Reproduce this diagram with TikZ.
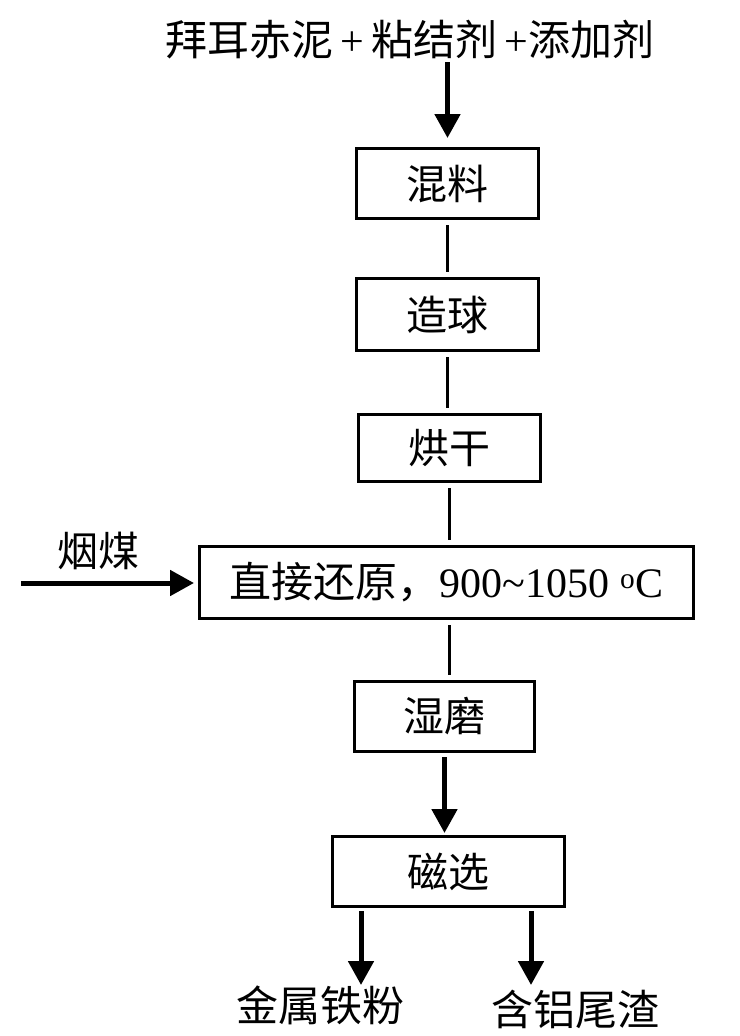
\documentclass[tikz,border=0pt]{standalone}
\usepackage{fontspec}
\setmainfont{Liberation Serif}
\newfontfamily\cjk{Noto Sans CJK SC}
\newcommand\zh[1]{{\cjk #1}}
\usetikzlibrary{arrows.meta}
\begin{document}
\begin{tikzpicture}[x=1pt,y=-1pt,
  stepbox/.style={draw, line width=3pt, inner sep=0pt, minimum height=#1},
  stepbox/.default=72pt,
  txt/.style={font=\fontsize{41}{43}\selectfont, inner sep=0pt},
  link/.style={line width=2.5pt, shorten <=5pt, shorten >=5pt},
  arr/.style={line width=5pt, -{Triangle[width=25pt,length=24pt]}}]
\useasboundingbox (0,0) rectangle (739,1036);
\fill[white] (0,0) rectangle (739,1036);

\node[txt, font=\fontsize{42}{44}\selectfont] (top) at (410,40) {\zh{拜耳赤泥}\,+\,\zh{粘结剂}\,+\zh{添加剂}};

\node[stepbox=70pt, minimum width=182pt, txt] (mix) at (447.5,183.5) {\zh{混料}};
\node[stepbox=72pt, minimum width=182pt, txt] (ball) at (447.5,314.5) {\zh{造球}};
\node[stepbox=67pt, minimum width=182pt, txt] (dry) at (449.5,448) {\zh{烘干}};
\node[stepbox=72pt, minimum width=494pt, txt, font=\fontsize{42}{44}\selectfont] (red) at (446.5,582.5) {\zh{直接还原，}900\textasciitilde1050 \textsuperscript{o}C};
\node[stepbox=70pt, minimum width=180pt, txt] (wet) at (444.5,716.5) {\zh{湿磨}};
\node[stepbox=70pt, minimum width=232pt, txt] (mag) at (448.5,871.5) {\zh{磁选}};

\node[txt] (coalt) at (98,551) {\zh{烟煤}};
\node[txt, font=\fontsize{42}{44}\selectfont] (fe) at (320,1005) {\zh{金属铁粉}};
\node[txt, font=\fontsize{42}{44}\selectfont] (al) at (575,1009) {\zh{含铝尾渣}};

\draw[arr, shorten >=9pt] (mix.north |- 0,62) -- (mix.north);
\draw[link] (mix.south) -- (mix.south |- ball.north);
\draw[link] (ball.south) -- (ball.south |- dry.north);
\draw[link] (dry.south) -- (dry.south |- red.north);
\draw[link] (dry.south |- red.south) -- (dry.south |- wet.north);
\draw[arr, shorten <=4pt, shorten >=2pt] (wet.south) -- (wet.south |- mag.north);

\coordinate (coal) at (21,583);
\draw[arr, shorten >=4pt] (coal) -- (red.west |- coal);

\coordinate (fetip) at (361,985);
\coordinate (altip) at (531,985);
\draw[arr, shorten <=3pt] (mag.south -| fetip) -- (fetip);
\draw[arr, shorten <=3pt] (mag.south -| altip) -- (altip);
\end{tikzpicture}
\end{document}
